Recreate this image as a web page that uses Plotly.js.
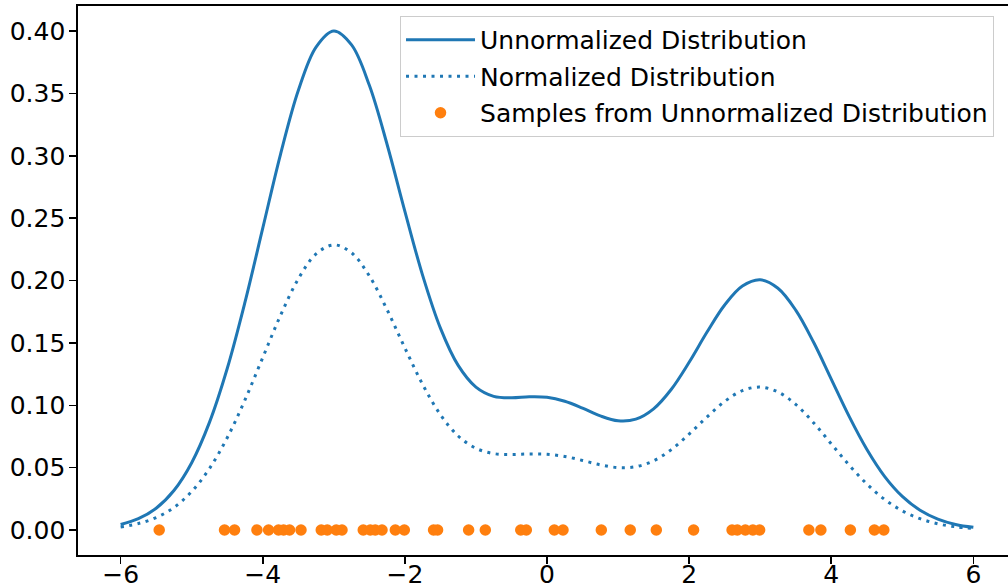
<!DOCTYPE html>
<html>
<head>
<meta charset="utf-8">
<script src="https://cdn.plot.ly/plotly-3.0.1.min.js"></script>
<style>
  html, body { margin: 0; padding: 0; overflow: hidden; background: #ffffff; }
  #chart { width: 1030px; height: 588px; }
</style>
</head>
<body>
<div id="chart"></div>
<script>
// Evaluation grid for the density curves
const xGrid = [
  -6.00, -5.75, -5.50, -5.25, -5.00, -4.75, -4.50, -4.25, -4.00, -3.75,
  -3.50, -3.25, -3.00, -2.75, -2.50, -2.25, -2.00, -1.75, -1.50, -1.25,
  -1.00, -0.75, -0.50, -0.25, 0.00, 0.25, 0.50, 0.75, 1.00, 1.25,
  1.50, 1.75, 2.00, 2.25, 2.50, 2.75, 3.00, 3.25, 3.50, 3.75,
  4.00, 4.25, 4.50, 4.75, 5.00, 5.25, 5.50, 5.75, 6.00
];

// Unnormalized density values on the grid
const unnormalized = [
  0.0044, 0.0091, 0.0175, 0.0317, 0.0540, 0.0863, 0.1295, 0.1827, 0.2420, 0.3012,
  0.3523, 0.3872, 0.4001, 0.3889, 0.3565, 0.3091, 0.2555, 0.2042, 0.1619, 0.1320,
  0.1146, 0.1072, 0.1060, 0.1068, 0.1064, 0.1032, 0.0977, 0.0915, 0.0876, 0.0889,
  0.0972, 0.1129, 0.1345, 0.1585, 0.1804, 0.1956, 0.2006, 0.1938, 0.1763, 0.1507,
  0.1210, 0.0913, 0.0648, 0.0431, 0.0270, 0.0159, 0.0088, 0.0045, 0.0022
];

// Normalized density values on the same grid
const normalized = [
  0.0025, 0.0052, 0.0100, 0.0181, 0.0309, 0.0493, 0.0740, 0.1044, 0.1383, 0.1721,
  0.2013, 0.2213, 0.2286, 0.2222, 0.2037, 0.1766, 0.1460, 0.1167, 0.0925, 0.0754,
  0.0655, 0.0613, 0.0606, 0.0610, 0.0608, 0.0590, 0.0558, 0.0523, 0.0501, 0.0508,
  0.0555, 0.0645, 0.0769, 0.0906, 0.1031, 0.1118, 0.1146, 0.1107, 0.1007, 0.0861,
  0.0691, 0.0522, 0.0370, 0.0246, 0.0154, 0.0091, 0.0050, 0.0026, 0.0013
];

// Samples drawn from the unnormalized density (shown along y = 0)
const samples = [
  -5.457, -4.538, -4.397, -4.082, -3.918, -3.778, -3.707, -3.623, -3.462,
  -3.177, -3.092, -2.966, -2.885, -2.586, -2.487, -2.417, -2.322, -2.135,
  -2.008, -1.596, -1.540, -1.103, -0.868, -0.369, -0.291, 0.103, 0.225,
  0.764, 1.172, 1.538, 2.063, 2.604, 2.678, 2.791, 2.897, 2.992,
  3.685, 3.854, 4.269, 4.607, 4.740
];

const seriesNames = [
  'Unnormalized Distribution',
  'Normalized Distribution',
  'Samples from Unnormalized Distribution'
];

const yTickVals = [0, 0.05, 0.10, 0.15, 0.20, 0.25, 0.30, 0.35, 0.40];
const xTickVals = [-6, -4, -2, 0, 2, 4, 6];

const blue = '#1f77b4';
const orange = '#ff7f0e';
const font = 'DejaVu Sans, sans-serif';

const traces = [
  {
    x: xGrid, y: unnormalized, name: seriesNames[0],
    type: 'scatter', mode: 'lines',
    line: { color: blue, width: 3, shape: 'spline', smoothing: 1 },
    legendgroup: 'a'
  },
  {
    x: xGrid, y: normalized, name: seriesNames[1],
    type: 'scatter', mode: 'lines',
    line: { color: blue, width: 3, dash: '3px,5.5px', shape: 'spline', smoothing: 1 },
    legendgroup: 'b'
  },
  {
    x: samples, y: samples.map(() => 0), name: seriesNames[2],
    type: 'scatter', mode: 'markers',
    marker: { color: orange, size: 11.5, line: { width: 0 } },
    legendgroup: 'c'
  }
];

const axisCommon = {
  showline: true, mirror: true, linecolor: '#000000', linewidth: 1.6,
  ticks: 'outside', ticklen: 7, tickwidth: 1.6, tickcolor: '#000000',
  showgrid: false, zeroline: false,
  tickfont: { family: font, size: 25, color: '#000000' }
};

const layout = {
  width: 1030, height: 588,
  margin: { l: 78, r: 14, t: 6, b: 33 },
  paper_bgcolor: '#ffffff', plot_bgcolor: '#ffffff',
  font: { family: font, size: 25, color: '#000000' },
  xaxis: Object.assign({}, axisCommon, {
    range: [-6.6, 6.6], tickvals: xTickVals,
    ticklabelstandoff: -11
  }),
  yaxis: Object.assign({}, axisCommon, {
    range: [-0.02, 0.4201], tickvals: yTickVals, tickformat: '.2f',
    ticklabelstandoff: -1
  }),
  showlegend: true,
  legend: {
    x: 0.3433, xanchor: 'left', y: 0.9818, yanchor: 'top',
    bgcolor: 'rgba(255,255,255,0.8)', bordercolor: '#cccccc', borderwidth: 1,
    font: { family: font, size: 25, color: '#000000' },
    itemwidth: 69, traceorder: 'grouped', tracegroupgap: 1
  },
  hovermode: false
};

Plotly.newPlot('chart', traces, layout, { staticPlot: true, displayModeBar: false });
</script>
</body>
</html>
